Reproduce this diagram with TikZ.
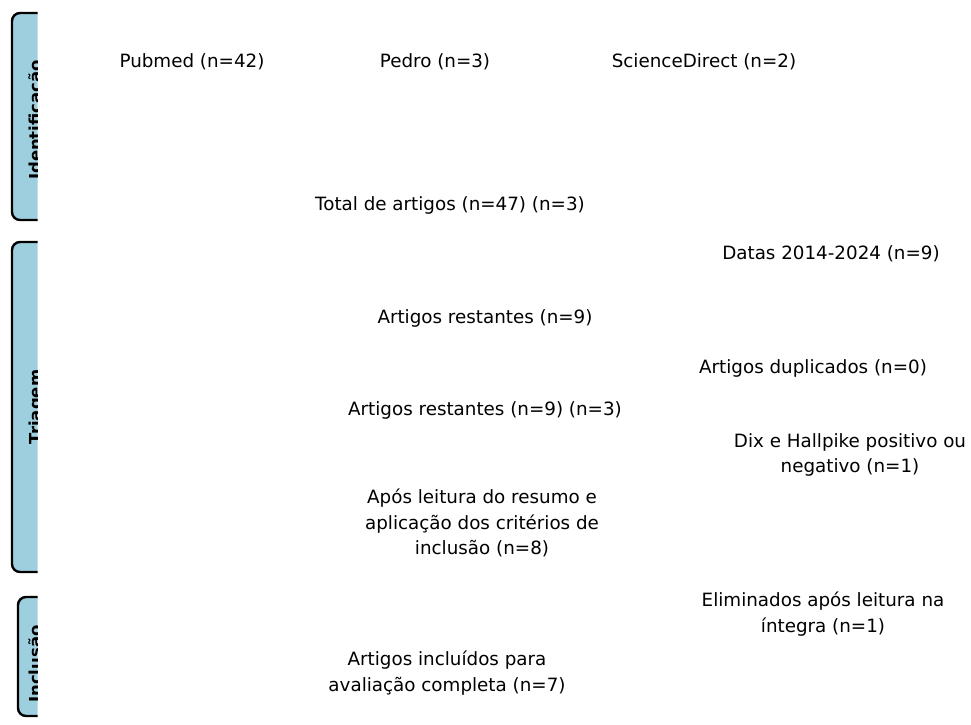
\documentclass[tikz,border=0pt]{standalone}
\usepackage{fontspec}
\setmainfont{DejaVu Sans}
\definecolor{barblue}{RGB}{158,207,222}
\begin{document}
\begin{tikzpicture}[x=1pt,y=-1pt,
  lbl/.style={font=\fontsize{18.3}{25.5}\selectfont, align=center, inner sep=0pt, text=black},
  phase/.style={draw=black, line width=2.4pt, fill=barblue, rounded corners=8pt},
  phasetxt/.style={font=\fontsize{16.5}{18}\selectfont\bfseries, rotate=90, anchor=base, inner sep=0pt}]
\useasboundingbox (0,0) rectangle (971,724);
\fill[white] (0,0) rectangle (971,724);
\begin{scope}
  \clip (0,0) rectangle (37.5,724);
  \draw[phase] (12,13) rectangle (70,220);
  \node[phasetxt] (tid) at (41,120) {Identificação};
  \draw[phase] (12,242) rectangle (70,572);
  \node[phasetxt] (ttr) at (41,407) {Triagem};
  \draw[phase] (18,597) rectangle (70,716);
  \node[phasetxt] (tin) at (41,664) {Inclusão};
\end{scope}
\node[lbl] (pub) at (192,62) {Pubmed (n=42)};
\node[lbl] (ped) at (435,62) {Pedro (n=3)};
\node[lbl] (sci) at (704,62) {ScienceDirect (n=2)};
\node[lbl] (tot) at (450,205) {Total de artigos (n=47) (n=3)};
\node[lbl] (dat) at (831,254) {Datas 2014-2024 (n=9)};
\node[lbl] (res1) at (485,318) {Artigos restantes (n=9)};
\node[lbl] (dup) at (813,368) {Artigos duplicados (n=0)};
\node[lbl] (res2) at (485,410) {Artigos restantes (n=9) (n=3)};
\node[lbl] (dix) at (850,455) {Dix e Hallpike positivo ou\\negativo (n=1)};
\node[lbl] (apo) at (482,523) {Após leitura do resumo e\\aplicação dos critérios de\\inclusão (n=8)};
\node[lbl] (eli) at (823,614) {Eliminados após leitura na\\íntegra (n=1)};
\node[lbl] (inc) at (447,673) {Artigos incluídos para\\avaliação completa (n=7)};
\end{tikzpicture}
\end{document}
